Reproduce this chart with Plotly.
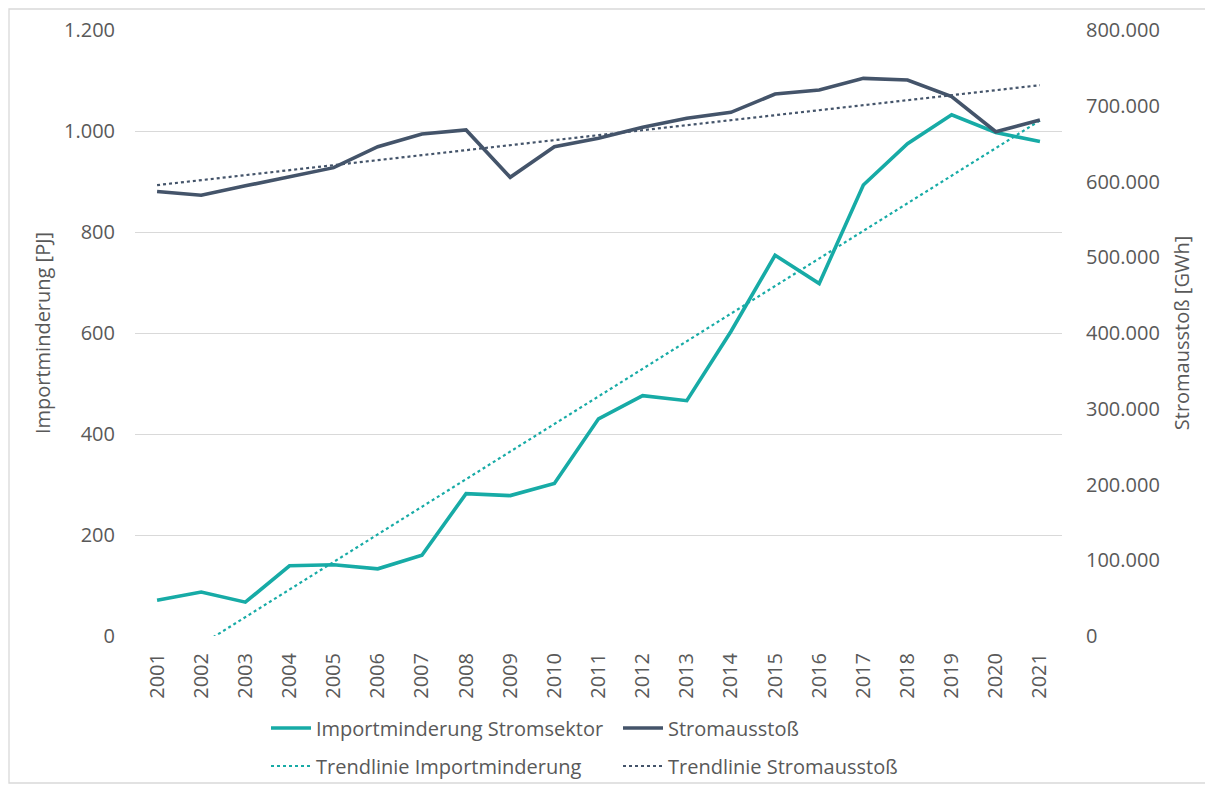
import numpy as np
import plotly.graph_objects as go

years = [str(y) for y in range(2001, 2022)]
import_pj = [71, 87, 67, 139, 141, 133, 160, 282, 278, 302, 430, 476, 466, 603, 754, 698, 893, 975, 1032, 997, 979]
strom_gwh = [586700, 581800, 594300, 606400, 618300, 646000, 662700, 668000, 605600, 646000, 657000,
             671600, 683500, 691300, 715500, 720800, 736200, 734000, 712000, 665700, 681200]

name_import = "Importminderung Stromsektor"
name_strom = "Stromausstoß"
name_trend_import = "Trendlinie Importminderung"
name_trend_strom = "Trendlinie Stromausstoß"

teal = "#17ABA6"
dark = "#44546A"
grey_text = "#595959"
grid = "#D9D9D9"
font_family = "Open Sans, Noto Sans, sans-serif"
fs = 20

# linear trend lines (least squares, like the spreadsheet trendline)
idx = np.arange(1, len(years) + 1)
ti = np.polyval(np.polyfit(idx, import_pj, 1), idx)
ts = np.polyval(np.polyfit(idx, strom_gwh, 1), idx)

fig = go.Figure()
fig.add_trace(go.Scatter(x=years, y=import_pj, name=name_import, mode="lines",
                         line=dict(color=teal, width=3.6), legend="legend"))
fig.add_trace(go.Scatter(x=years, y=strom_gwh, name=name_strom, mode="lines", yaxis="y2",
                         line=dict(color=dark, width=3.6), legend="legend"))
fig.add_trace(go.Scatter(x=years, y=ti, name=name_trend_import, mode="lines",
                         line=dict(color=teal, width=2.2, dash="dot"), legend="legend2"))
fig.add_trace(go.Scatter(x=years, y=ts, name=name_trend_strom, mode="lines", yaxis="y2",
                         line=dict(color=dark, width=2.2, dash="dot"), legend="legend2"))

# the page body has an 8px margin; work in window pixels and subtract it
OFF = 8
W, H = 1213 - OFF, 789 - OFF
L, R, T, B = 135 - OFF, 1213 - 1062, 30 - OFF, 789 - 636
pw, ph = W - L - R, H - T - B

def px_x(px):
    return (px - OFF - L) / pw

def px_y(py):
    return (H - B - (py - OFF)) / ph

legend_common = dict(orientation="h", xanchor="left", yanchor="middle",
                     entrywidth=297, entrywidthmode="pixels",
                     font=dict(family=font_family, size=fs, color=grey_text),
                     bgcolor="rgba(0,0,0,0)", itemwidth=40)

fig.update_layout(
    width=W, height=H,
    margin=dict(l=L, r=R, t=T, b=B, autoexpand=False),
    paper_bgcolor="white", plot_bgcolor="white",
    separators=",.",
    font=dict(family=font_family, size=fs, color=grey_text),
    xaxis=dict(type="category", range=[-0.5, len(years) - 0.5], tickangle=-90,
               showgrid=False, showline=False, ticks="", ticklabelstandoff=12,
               tickfont=dict(size=fs, color=grey_text)),
    yaxis=dict(range=[0, 1200], dtick=200, tickformat=",", showgrid=True, gridcolor=grid,
               gridwidth=1.3, zeroline=False, showline=False, ticks="", ticklabelstandoff=19,
               tickfont=dict(size=fs, color=grey_text),
               title=dict(text="Importminderung [PJ]", standoff=8,
                          font=dict(size=fs, color=grey_text))),
    yaxis2=dict(range=[0, 800000], dtick=100000, tickformat=",", overlaying="y", side="right",
                showgrid=False, zeroline=False, showline=False, ticks="", ticklabelstandoff=23,
                tickfont=dict(size=fs, color=grey_text),
                title=dict(text="Stromausstoß [GWh]", standoff=16,
                           font=dict(size=fs, color=grey_text))),
    legend=dict(x=px_x(266), y=px_y(728), **legend_common),
    legend2=dict(x=px_x(266), y=px_y(766), **legend_common),
    showlegend=True,
)

fig.add_shape(type="rect", xref="paper", yref="paper",
              x0=px_x(OFF + 1), x1=px_x(1206), y0=px_y(783), y1=px_y(OFF + 1),
              line=dict(color="#D9D9D9", width=1.3), fillcolor="rgba(0,0,0,0)", layer="below")

fig.write_html("out.html")
